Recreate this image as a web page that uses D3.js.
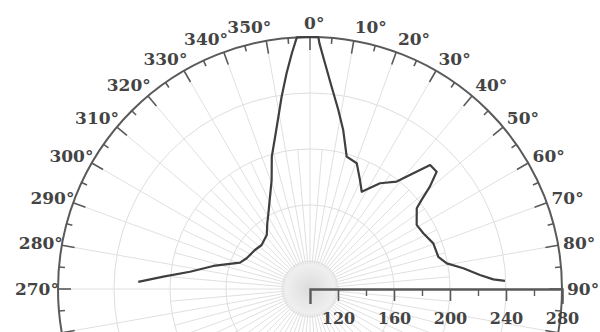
<!DOCTYPE html>
<html>
<head>
<meta charset="utf-8">
<script src="https://cdn.jsdelivr.net/npm/d3@7"></script>
<style>
  body { margin: 0; background: #fff; }
  svg { display: block; }
</style>
</head>
<body>
<div id="chart"></div>
<script>
// traced profile: angle (deg, clockwise from north) and radial value
const angles = [272.4, 274.8, 278.2, 283.4, 290.6, 295.9, 305.3, 312.3, 321.3, 327, 331.2, 336.6, 340.6, 343.9,
                347.1, 349.6, 351.6, 353.8, 355.6, 357, 0, 1.9, 2.2, 3.8, 6.1, 9, 11.8, 15.5, 20.4, 24.6, 28,
                33.5, 38.9, 41.8, 44.1, 47.2, 49.5, 51.4, 52.9, 59, 63.8, 69.7, 75.9, 79.4, 82.3, 85.3, 87, 87.6];
const values = [222.8, 205.1, 186.6, 171, 153.4, 150.3, 148.2, 146.7, 149.4, 156, 161.7, 171.9, 182.5, 198.4,
                211.6, 225.1, 238.8, 255, 268.9, 280, 280, 280, 275.6, 261.6, 245.3, 229.4, 216, 198.1, 195.8, 185.7, 178.7,
                190.6, 198.6, 210.8, 223.3, 223.3, 212.6, 202, 195.6, 188.9, 190.2, 193.9, 194.5, 199.4, 210.5, 221.8, 231.1, 239.4];

const radialTicks = [120, 160, 200, 240, 280];
const radialMinor = [140, 180, 220, 260];
const gridRings = [120, 160, 200, 240];
const angleLabels = [270, 280, 290, 300, 310, 320, 330, 340, 350, 0, 10, 20, 30, 40, 50, 60, 70, 80, 90];

const width = 600, height = 332;
const cx = 310, cy = 289, outerR = 252;
const font = "'DejaVu Serif', serif";

const svg = d3.select('#chart').append('svg')
    .attr('width', width)
    .attr('height', height);

const g = svg.append('g').attr('transform', `translate(${cx}, ${cy})`);

const r = d3.scaleLinear().domain([100, 280]).range([0, outerR]);
const rad = d3.scaleLinear().domain([0, 360]).range([0, 2 * Math.PI]);

const px = (deg, rr) => rr * Math.sin(rad(deg));
const py = (deg, rr) => -rr * Math.cos(rad(deg));

// hub
const hub = svg.append('defs').append('radialGradient').attr('id', 'hub');
hub.append('stop').attr('offset', '0%').attr('stop-color', '#dcdcdc');
hub.append('stop').attr('offset', '100%').attr('stop-color', '#f2f2f2');

g.append('circle')
    .attr('r', r(120))
    .attr('fill', 'url(#hub)');

// rings
g.selectAll('.ring').data(gridRings).join('circle')
    .attr('class', 'ring')
    .attr('r', d => r(d))
    .attr('fill', 'none')
    .attr('stroke', '#dedede')
    .attr('stroke-width', 1);

// spokes
g.selectAll('.spoke').data(d3.range(0, 360, 5)).join('line')
    .attr('class', 'spoke')
    .attr('x1', d => px(d, r(118)))
    .attr('y1', d => py(d, r(118)))
    .attr('x2', d => px(d, d % 10 === 0 ? outerR : r(200)))
    .attr('y2', d => py(d, d % 10 === 0 ? outerR : r(200)))
    .attr('stroke', '#e0e0e0')
    .attr('stroke-width', 1);

// outer circle
g.append('circle')
    .attr('r', outerR)
    .attr('fill', 'none')
    .attr('stroke', '#5a5a5a')
    .attr('stroke-width', 2);

// angular ticks
g.selectAll('.atick').data(d3.range(0, 360, 5)).join('line')
    .attr('class', 'atick')
    .attr('x1', d => px(d, outerR))
    .attr('y1', d => py(d, outerR))
    .attr('x2', d => px(d, outerR - (d % 10 === 0 ? 13 : 6)))
    .attr('y2', d => py(d, outerR - (d % 10 === 0 ? 13 : 6)))
    .attr('stroke', '#5a5a5a')
    .attr('stroke-width', 1.6);

// angular labels
const lab = g.selectAll('.alabel').data(angleLabels).join('text')
    .attr('class', 'alabel')
    .attr('font-family', font)
    .attr('font-weight', 'bold')
    .attr('font-size', 17)
    .attr('fill', '#444')
    .attr('dominant-baseline', 'central');
lab.append('tspan').attr('class', 'num').text(d => d);
lab.append('tspan').text('°');

lab.each(function(d) {
    const t = d3.select(this);
    const full = this.getBBox().width;
    const numW = t.select('.num').node().getComputedTextLength();
    const degW = full - numW;
    const s = Math.sin(rad(d));
    let x, anchor;
    if (s > 0.01) { anchor = 'start'; x = 257 * s; }
    else if (s < -0.01) { anchor = 'end'; x = 257 * s + degW * 0.7; }
    else { anchor = 'middle'; x = degW / 2; }
    t.attr('text-anchor', anchor)
     .attr('x', x)
     .attr('y', py(d, 266));
});

// profile
const line = d3.lineRadial()
    .angle(d => rad(d[0]))
    .radius(d => r(d[1]));

g.append('path')
    .datum(d3.zip(angles, values))
    .attr('d', line)
    .attr('fill', 'none')
    .attr('stroke', '#3f3f3f')
    .attr('stroke-width', 2.2)
    .attr('stroke-linejoin', 'round');

// radial axis
const rAxis = d3.axisBottom(r)
    .tickValues(radialTicks)
    .tickSize(12)
    .tickSizeOuter(15)
    .tickPadding(12);

const ax = g.append('g').call(rAxis);
ax.select('.domain').attr('stroke', '#5a5a5a').attr('stroke-width', 2.4);
ax.selectAll('.tick line').attr('stroke', '#5a5a5a').attr('stroke-width', 1.6);
ax.selectAll('.tick text')
    .attr('font-family', font)
    .attr('font-weight', 'bold')
    .attr('font-size', 16)
    .attr('fill', '#444');

g.append('g').call(d3.axisBottom(r).tickValues(radialMinor).tickSize(7).tickSizeOuter(0).tickFormat(''))
    .call(a => a.select('.domain').remove())
    .selectAll('.tick line').attr('stroke', '#5a5a5a').attr('stroke-width', 1.4);
</script>
</body>
</html>
